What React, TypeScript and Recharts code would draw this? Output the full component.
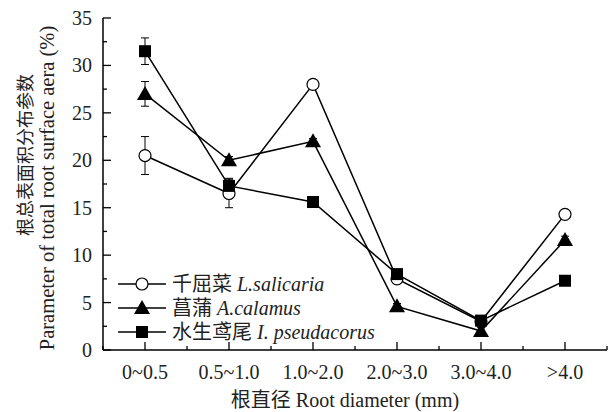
import React from 'react'
import { LineChart, Line, XAxis, YAxis, ErrorBar, Legend, Label } from 'recharts'

const categories = ['0~0.5', '0.5~1.0', '1.0~2.0', '2.0~3.0', '3.0~4.0', '>4.0']

// 千屈菜 L.salicaria
const salicaria = [20.5, 16.5, 28.0, 7.5, 3.0, 14.3]
const salicariaErr = [2.0, 1.5, 0.3, 0.5, 0.4, 0.4]
// 菖蒲 A.calamus
const calamus = [27.0, 20.0, 22.0, 4.6, 2.0, 11.6]
const calamusErr = [1.3, 0.4, 0.3, 0.3, 0.4, 0.4]
// 水生鸢尾 I. pseudacorus
const pseudacorus = [31.5, 17.3, 15.6, 8.0, 3.1, 7.3]
const pseudacorusErr = [1.4, 0.8, 0.2, 0.3, 0.3, 0.2]

const yTicks = [0, 2.5, 5, 7.5, 10, 12.5, 15, 17.5, 20, 22.5, 25, 27.5, 30, 32.5, 35]
const xTicks = [-0.5, 0, 0.5, 1, 1.5, 2, 2.5, 3, 3.5, 4, 4.5, 5, 5.5]

const series = [
  { key: 'sal', err: 'salErr', cn: '千屈菜', latin: 'L.salicaria', shape: 'circle' },
  { key: 'cal', err: 'calErr', cn: '菖蒲', latin: 'A.calamus', shape: 'triangle' },
  { key: 'pse', err: 'pseErr', cn: '水生鸢尾', latin: 'I. pseudacorus', shape: 'square' },
]

const rows = categories.map((c, i) => ({
  idx: i,
  cat: c,
  sal: salicaria[i],
  salErr: salicariaErr[i],
  cal: calamus[i],
  calErr: calamusErr[i],
  pse: pseudacorus[i],
  pseErr: pseudacorusErr[i],
}))

const FONT = '"Liberation Serif", "Times New Roman", "Noto Sans CJK SC", serif'

function Marker({ shape, cx, cy }: { shape: string; cx: number; cy: number }) {
  if (cx == null || cy == null) return null
  if (shape === 'circle')
    return <circle cx={cx} cy={cy} r={6} fill="#fff" stroke="#000" strokeWidth={1.2} />
  if (shape === 'triangle')
    return <polygon points={`${cx},${cy - 8} ${cx - 8},${cy + 6} ${cx + 8},${cy + 6}`} fill="#000" />
  return <rect x={cx - 6} y={cy - 6} width={12} height={12} fill="#000" />
}

function XTick(props: any) {
  const { x, y, payload } = props
  const v = payload.value
  const major = Number.isInteger(v)
  return (
    <g>
      <line x1={x} y1={y} x2={x} y2={y - (major ? 8 : 4)} stroke="#000" strokeWidth={1.3} />
      {major && (
        <text x={x} y={y + 29} textAnchor="middle" fontSize={20} fontFamily={FONT} fill="#222">
          {categories[v]}
        </text>
      )}
    </g>
  )
}

function YTick(props: any) {
  const { x, y, payload } = props
  const v = payload.value
  const major = v % 5 === 0
  return (
    <g>
      <line x1={x} y1={y} x2={x + (major ? 8 : 4)} y2={y} stroke="#000" strokeWidth={1.3} />
      {major && (
        <text x={x - 11} y={y + 7} textAnchor="end" fontSize={20} fontFamily={FONT} fill="#222">
          {v}
        </text>
      )}
    </g>
  )
}

function YTitle() {
  return (
    <g fontFamily={FONT} fill="#222">
      <text transform="translate(32,236) rotate(-90)" textAnchor="start" fontSize={18}>
        根总表面积分布参数
      </text>
      <text transform="translate(54,188) rotate(-90)" textAnchor="middle" fontSize={20.5}>
        Parameter of total root surface aera (%)
      </text>
    </g>
  )
}

function XTitle() {
  return (
    <text x={345} y={407} textAnchor="middle" fontSize={20} fontFamily={FONT} fill="#222">
      根直径 Root diameter (mm)
    </text>
  )
}

function LegendBox() {
  return (
    <div style={{ fontFamily: FONT, fontSize: 20, color: '#222', lineHeight: '24px' }}>
      {series.map(s => (
        <div key={s.key} style={{ display: 'flex', alignItems: 'center', height: 24 }}>
          <svg width={52} height={24}>
            <line x1={2} y1={12} x2={50} y2={12} stroke="#000" strokeWidth={1.5} />
            <Marker shape={s.shape} cx={26} cy={12} />
          </svg>
          <span style={{ marginLeft: 4, whiteSpace: 'nowrap' }}>
            {s.cn} <i>{s.latin}</i>
          </span>
        </div>
      ))}
    </div>
  )
}

export default function App() {
  return (
    <div style={{ position: 'absolute', left: 0, top: 0, width: 611, height: 412, background: '#fff' }}>
      <LineChart width={611} height={412} data={rows} margin={{ top: 18, right: 4, bottom: 0, left: 0 }}>
        <XAxis
          type="number"
          dataKey="idx"
          domain={[-0.5, 5.5]}
          ticks={xTicks}
          interval={0}
          height={62}
          tickSize={0}
          tickMargin={0}
          axisLine={{ stroke: '#000', strokeWidth: 1.5 }}
          tickLine={false}
          tick={<XTick />}
        >
          <Label content={<XTitle />} />
        </XAxis>
        <YAxis
          type="number"
          domain={[0, 35]}
          ticks={yTicks}
          interval={0}
          width={103}
          tickSize={0}
          tickMargin={0}
          axisLine={{ stroke: '#000', strokeWidth: 1.5 }}
          tickLine={false}
          tick={<YTick />}
        >
          <Label content={<YTitle />} />
        </YAxis>
        <Legend
          layout="vertical"
          align="center"
          verticalAlign="middle"
          wrapperStyle={{ left: 116, top: 272, width: 260 }}
          content={<LegendBox />}
        />
        {series.map(s => (
          <Line
            key={s.key}
            dataKey={s.key}
            type="linear"
            stroke="#000"
            strokeWidth={1.5}
            isAnimationActive={false}
            dot={(p: any) => <Marker key={`${s.key}-${p.index}`} shape={s.shape} cx={p.cx} cy={p.cy} />}
            activeDot={false}
          >
            <ErrorBar dataKey={s.err} direction="y" width={4} stroke="#000" strokeWidth={1} />
          </Line>
        ))}
      </LineChart>
    </div>
  )
}
